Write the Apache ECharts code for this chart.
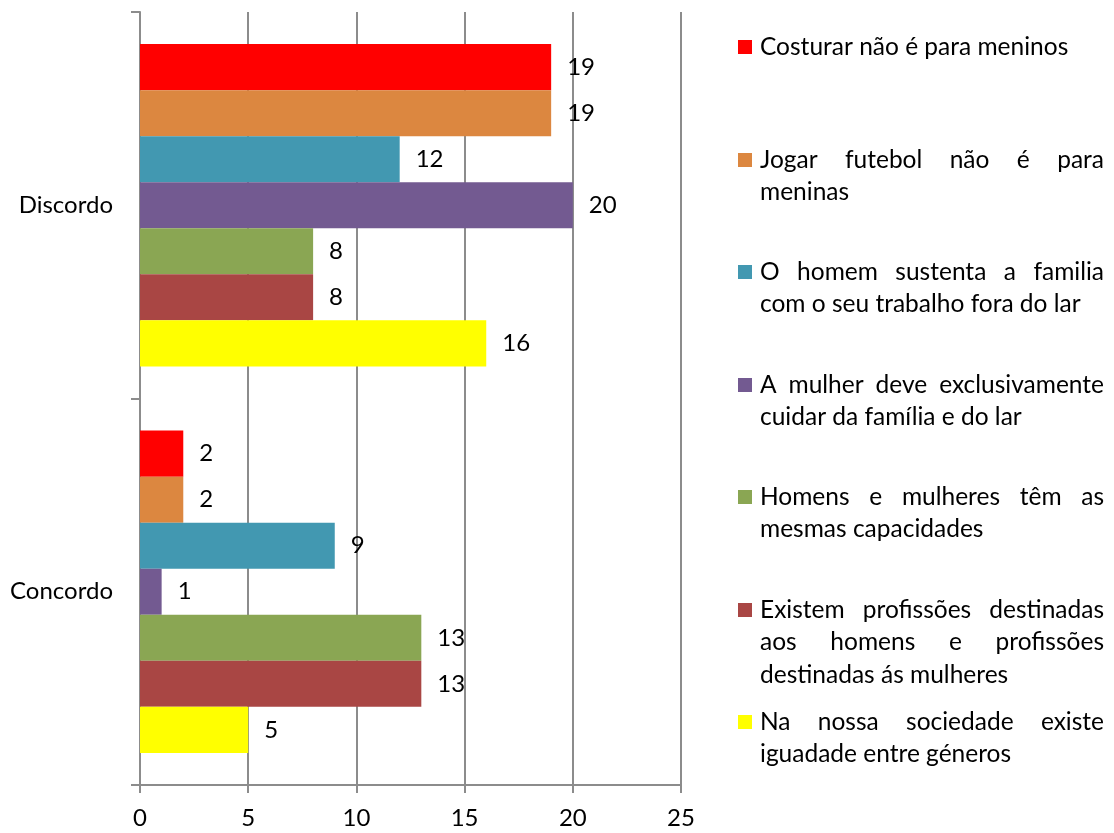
<!DOCTYPE html>
<html><head><meta charset="utf-8">
<script src="https://cdn.jsdelivr.net/npm/echarts@6/dist/echarts.min.js"></script>
<style>html,body{margin:0;padding:0;background:#fff}#c{width:1114px;height:833px}</style>
</head><body><div id="c"></div><script>
// ---- data ----
const categories = ['Discordo', 'Concordo'];
const seriesNames = [
  'Costurar não é para meninos',
  'Jogar futebol não é para meninas',
  'O homem sustenta a familia com o seu trabalho fora do lar',
  'A mulher deve exclusivamente cuidar da família e do lar',
  'Homens e mulheres têm as mesmas capacidades',
  'Existem profissões destinadas aos homens e profissões destinadas ás mulheres',
  'Na nossa sociedade existe iguadade entre géneros'
];
const costurar = [19, 2];
const jogarFutebol = [19, 2];
const homemSustenta = [12, 9];
const mulherCuida = [20, 1];
const mesmasCapacidades = [8, 13];
const profissoes = [8, 13];
const igualdade = [16, 5];
const xTickLabels = ['0', '5', '10', '15', '20', '25'];
// legend line breaks as in the reference
const legendLines = [
  ['Costurar não é para meninos'],
  ['Jogar futebol não é para', 'meninas'],
  ['O homem sustenta a familia', 'com o seu trabalho fora do lar'],
  ['A mulher deve exclusivamente', 'cuidar da família e do lar'],
  ['Homens e mulheres têm as', 'mesmas capacidades'],
  ['Existem profissões destinadas', 'aos homens e profissões', 'destinadas ás mulheres'],
  ['Na nossa sociedade existe', 'iguadade entre géneros']
];
const colors = ['#FF0000', '#DC8740', '#4298B1', '#735A91', '#8AA653', '#A94644', '#FFFF00'];

// ---- styles ----
const FONT = 'Lato';
const FS = 24;
const LFS = 24.5;
const values = [costurar, jogarFutebol, homemSustenta, mulherCuida, mesmasCapacidades, profissoes, igualdade];

const chart = echarts.init(document.getElementById('c'));

// legend (justified text like the reference)
const canvas = document.createElement('canvas');
const ctx = canvas.getContext('2d');
ctx.font = LFS + 'px ' + FONT;
const legX = 738, textX = 760, textRight = 1104;
const legTops = [47, 160, 272, 385, 497, 610, 722];
const lineH = 32.5;
const graphics = [];
legendLines.forEach((lines, i) => {
  const y0 = legTops[i];
  graphics.push({ type: 'rect', shape: { x: legX, y: y0 - 7, width: 14, height: 14 }, style: { fill: colors[i] } });
  lines.forEach((ln, j) => {
    const y = y0 + j * lineH;
    const justify = lines.length > 1 && j < lines.length - 1;
    if (!justify) {
      graphics.push({ type: 'text', style: { text: ln, x: textX, y: y, font: LFS + 'px ' + FONT, fill: '#000', verticalAlign: 'middle' } });
    } else {
      const words = ln.split(' ');
      const ws = words.map(w => ctx.measureText(w).width);
      const total = ws.reduce((a, b) => a + b, 0);
      const gap = (textRight - textX - total) / (words.length - 1);
      let x = textX;
      words.forEach((w, k) => {
        graphics.push({ type: 'text', style: { text: w, x: x, y: y, font: LFS + 'px ' + FONT, fill: '#000', verticalAlign: 'middle' } });
        x += ws[k] + gap;
      });
    }
  });
});

const series = seriesNames.map((name, i) => ({
  name: name,
  type: 'bar',
  data: values[i],
  barGap: '0%',
  barCategoryGap: '16.6%',
  itemStyle: { color: colors[i] },
  label: { show: true, position: 'right', distance: 16, color: '#000', fontFamily: FONT, fontSize: FS },
  animation: false
}));

chart.setOption({
  animation: false,
  backgroundColor: '#fff',
  grid: { left: 140, right: 433, top: 12, bottom: 48, containLabel: false },
  xAxis: {
    type: 'value', min: 0, max: 25, interval: 5,
    axisLine: { show: true, lineStyle: { color: '#8c8c8c', width: 2 } },
    axisTick: { show: true, length: 8, lineStyle: { color: '#8c8c8c', width: 2 } },
    splitLine: { show: true, lineStyle: { color: '#8c8c8c', width: 2 } },
    axisLabel: { margin: 21, color: '#000', fontFamily: FONT, fontSize: FS,
      formatter: (v) => xTickLabels[Math.round(v / 5)] }
  },
  yAxis: {
    type: 'category', data: categories, inverse: true,
    axisLine: { show: true, lineStyle: { color: '#8c8c8c', width: 2 } },
    axisTick: { show: true, length: 9, alignWithLabel: false, lineStyle: { color: '#8c8c8c', width: 2 } },
    axisLabel: { margin: 27, color: '#000', fontFamily: FONT, fontSize: FS }
  },
  graphic: graphics,
  series: series
});
</script></body></html>
